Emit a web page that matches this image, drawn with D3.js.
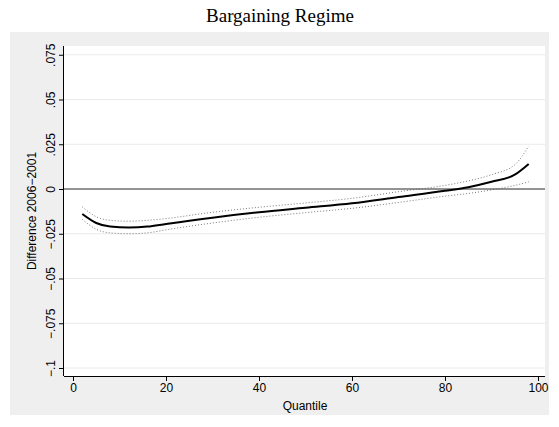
<!DOCTYPE html>
<html>
<head>
<meta charset="utf-8">
<script src="https://d3js.org/d3.v7.min.js"></script>
<style>body{margin:0;background:#fff}</style>
</head>
<body>
<script>
var quantile = [2, 5, 8, 12, 16, 20, 30, 40, 50, 60, 70, 80, 85, 90, 95, 98];
var diff =     [-0.014, -0.019, -0.021, -0.0215, -0.021, -0.0195, -0.016, -0.013, -0.0105, -0.008, -0.0045, -0.001, 0.001, 0.004, 0.008, 0.014];
var upper =    [-0.010, -0.0155, -0.0175, -0.018, -0.0175, -0.0165, -0.013, -0.0102, -0.0078, -0.0052, -0.0015, 0.002, 0.0045, 0.008, 0.0135, 0.024];
var lower =    [-0.017, -0.0225, -0.0245, -0.025, -0.0245, -0.0228, -0.019, -0.0158, -0.0132, -0.0108, -0.0075, -0.004, -0.0025, -0.0005, 0.002, 0.004];
var xTicks = [0, 20, 40, 60, 80, 100];
var yTicks = [0.075, 0.05, 0.025, 0, -0.025, -0.05, -0.075, -0.1];

var svg = d3.select("body").append("svg").attr("width", 559).attr("height", 427);
svg.append("rect").attr("x", 10).attr("y", 32).attr("width", 539).attr("height", 383).attr("fill", "#efefef");
svg.append("rect").attr("x", 64).attr("y", 46).attr("width", 481).attr("height", 330).attr("fill", "#fff");
svg.append("text").attr("x", 280).attr("y", 22).attr("text-anchor", "middle")
  .attr("font-family", "Liberation Serif, serif").attr("font-size", 19).text("Bargaining Regime");

var x = d3.scaleLinear().domain([0, 100]).range([73, 538]);
var y = d3.scaleLinear().domain([0, -0.1]).range([189, 368]);

svg.selectAll(".grid").data(yTicks).enter().append("line")
  .attr("x1", 64).attr("x2", 545).attr("y1", d => y(d)).attr("y2", d => y(d))
  .attr("stroke", "#eaeaea").attr("stroke-width", 1);
svg.append("line").attr("x1", 64).attr("x2", 545).attr("y1", y(0)).attr("y2", y(0)).attr("stroke", "#000").attr("stroke-width", 0.8);

var font = "Liberation Sans, Arial, sans-serif";
var xa = svg.append("g").attr("transform", "translate(0,376)")
  .call(d3.axisBottom(x).tickValues(xTicks).tickSize(5).tickPadding(2));
xa.select(".domain").attr("d", "M64,0.5H545");
xa.selectAll("text").attr("font-family", font).attr("font-size", 12);
var ya = svg.append("g").attr("transform", "translate(64,0)")
  .call(d3.axisLeft(y).tickValues(yTicks).tickSize(5).tickFormat(d => d === 0 ? "0" : d3.format(".3~f")(d).replace("0.", ".")));
ya.select(".domain").attr("d", "M-0.5,46V376");
ya.selectAll("text").attr("font-family", font).attr("font-size", 12)
  .attr("transform", "rotate(-90)").attr("text-anchor", "middle")
  .attr("x", 0).attr("y", -9).attr("dy", null);
svg.append("text").attr("transform", "translate(36,211) rotate(-90)").attr("text-anchor", "middle")
  .attr("font-family", font).attr("font-size", 12).text("Difference 2006\u22122001");
svg.append("text").attr("x", 305).attr("y", 410).attr("text-anchor", "middle")
  .attr("font-family", font).attr("font-size", 12).text("Quantile");

function line(arr) {
  return d3.line().curve(d3.curveMonotoneX).x((d, i) => x(quantile[i])).y(d => y(d))(arr);
}
svg.append("path").attr("d", line(upper)).attr("fill", "none").attr("stroke", "#555").attr("stroke-width", 0.8).attr("stroke-dasharray", "1,2");
svg.append("path").attr("d", line(lower)).attr("fill", "none").attr("stroke", "#555").attr("stroke-width", 0.8).attr("stroke-dasharray", "1,2");
svg.append("path").attr("d", line(diff)).attr("fill", "none").attr("stroke", "#000").attr("stroke-width", 2);
</script>
</body>
</html>
